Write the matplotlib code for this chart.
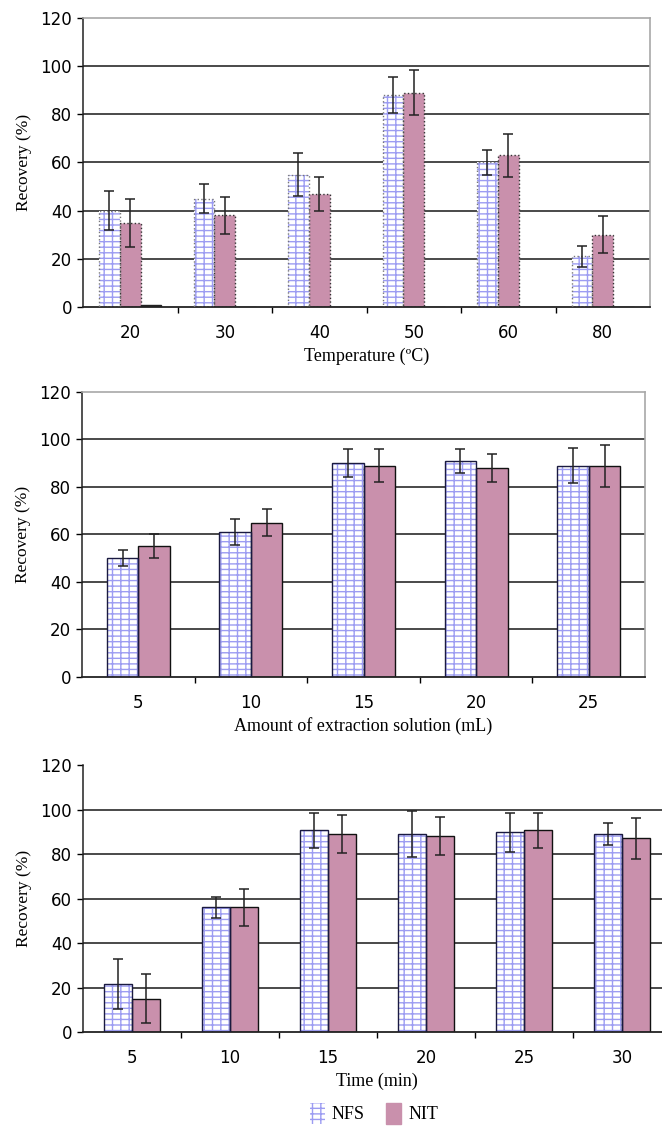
import numpy as np
import matplotlib
matplotlib.use('Agg')
import matplotlib.pyplot as plt
from matplotlib.patches import Patch

# ---- data ----
temp_labels = ['20', '30', '40', '50', '60', '80']
temp_nfs = [40, 45, 55, 88, 60, 21]
temp_nfs_err = [8, 6, 9, 7.5, 5, 4.3]
temp_nit = [35, 38, 47, 89, 63, 30]
temp_nit_err = [10, 7.5, 7, 9.5, 9, 7.7]
temp_extra = [0.8, 0, 0, 0, 0, 0]

vol_labels = ['5', '10', '15', '20', '25']
vol_nfs = [50, 61, 90, 91, 89]
vol_nfs_err = [3.3, 5.5, 6, 5.2, 7.4]
vol_nit = [55, 65, 89, 88, 89]
vol_nit_err = [5, 5.8, 6.8, 5.8, 8.8]

time_labels = ['5', '10', '15', '20', '25', '30']
time_nfs = [21.5, 56, 90.6, 89, 89.7, 89]
time_nfs_err = [11.3, 4.8, 8, 10.4, 8.7, 5]
time_nit = [15, 56, 89, 88, 90.6, 87]
time_nit_err = [11, 8.5, 8.5, 8.5, 7.7, 9.4]

NFS_HATCH = '#9c9cf2'
NIT_COLOR = '#c990ac'
SERIF = 'Liberation Serif'

fig = plt.figure(figsize=(6.62, 11.29), dpi=100)


def setup_axes(ax, labels, xlabel, frame=True):
    n = len(labels)
    ax.set_xlim(0, n)
    ax.set_ylim(0, 120)
    ax.set_yticks(range(0, 121, 20))
    ax.set_xticks(np.arange(n) + 0.5)
    ax.set_xticklabels(labels, fontsize=12)
    ax.set_xticks(np.arange(1, n), minor=True)
    ax.tick_params(axis='x', which='major', length=0, pad=12)
    ax.tick_params(axis='x', which='minor', length=4, width=1, direction='out')
    ax.tick_params(axis='y', length=4, width=1, labelsize=12, pad=4)
    for y in range(20, 101, 20):
        ax.axhline(y, color='#3a3a3a', lw=1.3, zorder=1)
    ax.spines['left'].set_color('#222222')
    ax.spines['bottom'].set_color('#222222')
    ax.spines['left'].set_linewidth(1.1)
    ax.spines['bottom'].set_linewidth(1.3)
    if frame:
        ax.spines['top'].set_color('#a8a8a8')
        ax.spines['right'].set_color('#a8a8a8')
        ax.spines['top'].set_linewidth(1.2)
        ax.spines['right'].set_linewidth(1.2)
    else:
        ax.spines['top'].set_visible(False)
        ax.spines['right'].set_visible(False)
    ax.set_ylabel('Recovery (%)', family=SERIF, fontsize=12.5, labelpad=6)
    ax.set_xlabel(xlabel, family=SERIF, fontsize=13, labelpad=4)


def nfs_bars(ax, x, vals, errs, w, edge, ls):
    ax.bar(x, vals, w, facecolor='white', edgecolor=NFS_HATCH, hatch='---||',
           lw=0, zorder=2)
    ax.bar(x, vals, w, facecolor='none', edgecolor=edge, lw=1, ls=ls, zorder=3)
    ax.errorbar(x, vals, yerr=errs, fmt='none', ecolor='#222222', elinewidth=1.1,
                capsize=3.5, capthick=1.1, zorder=4)


def nit_bars(ax, x, vals, errs, w, edge, ls):
    ax.bar(x, vals, w, facecolor=NIT_COLOR, edgecolor=edge, lw=1, ls=ls, zorder=2)
    ax.errorbar(x, vals, yerr=errs, fmt='none', ecolor='#222222', elinewidth=1.1,
                capsize=3.5, capthick=1.1, zorder=4)


# top panel: temperature
ax1 = fig.add_axes([0.1254, 0.7281, 0.8565, 0.2560])
x = np.arange(len(temp_labels)) + 0.5
w = 0.22
nfs_bars(ax1, x - w, temp_nfs, temp_nfs_err, w, '#777777', ':')
nit_bars(ax1, x, temp_nit, temp_nit_err, w, '#333333', ':')
ax1.bar(x + w, temp_extra, w, facecolor='#333333', edgecolor='#222222', lw=1, zorder=2)
setup_axes(ax1, temp_labels, 'Temperature (\u00baC)')

# middle panel: amount of extraction solution
ax2 = fig.add_axes([0.1239, 0.4004, 0.8505, 0.2524])
x = np.arange(len(vol_labels)) + 0.5
w = 0.28
nfs_bars(ax2, x - w / 2, vol_nfs, vol_nfs_err, w, '#1a1a40', '-')
nit_bars(ax2, x + w / 2, vol_nit, vol_nit_err, w, '#111111', '-')
setup_axes(ax2, vol_labels, 'Amount of extraction solution (mL)')

# bottom panel: time
ax3 = fig.add_axes([0.1254, 0.0859, 0.8882, 0.2365])
x = np.arange(len(time_labels)) + 0.5
w = 0.29
nfs_bars(ax3, x - w / 2, time_nfs, time_nfs_err, w, '#1a1a40', '-')
nit_bars(ax3, x + w / 2, time_nit, time_nit_err, w, '#111111', '-')
setup_axes(ax3, time_labels, 'Time (min)', frame=False)

handles = [Patch(facecolor='white', edgecolor=NFS_HATCH, hatch='---||', lw=0),
           Patch(facecolor=NIT_COLOR, edgecolor=NIT_COLOR)]
fig.legend(handles, ['NFS', 'NIT'], loc='center', bbox_to_anchor=(0.565, 0.014),
           ncol=2, frameon=False, prop={'family': SERIF, 'size': 13},
           handlelength=0.8, handleheight=1.4, handletextpad=0.4, columnspacing=1.2)

fig.savefig('out.png', dpi=100)
